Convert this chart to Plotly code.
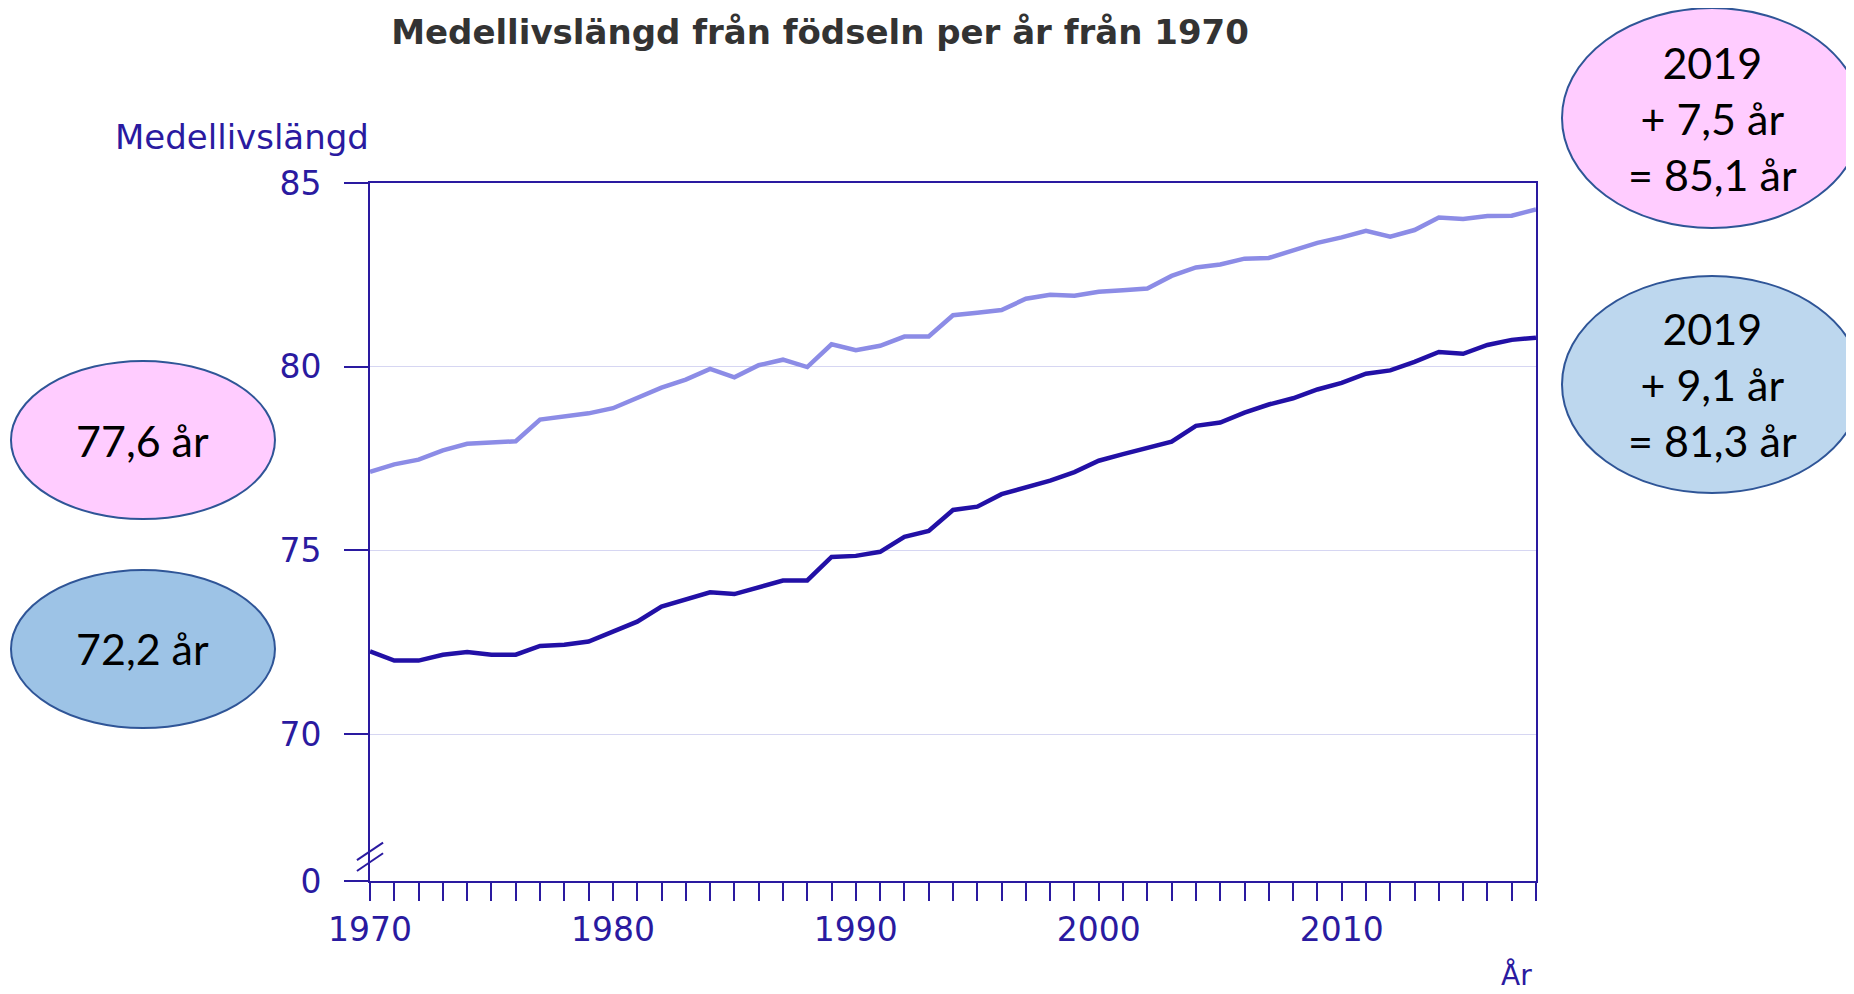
import plotly.graph_objects as go

# data
years = [1970, 1971, 1972, 1973, 1974, 1975, 1976, 1977, 1978, 1979,
         1980, 1981, 1982, 1983, 1984, 1985, 1986, 1987, 1988, 1989,
         1990, 1991, 1992, 1993, 1994, 1995, 1996, 1997, 1998, 1999,
         2000, 2001, 2002, 2003, 2004, 2005, 2006, 2007, 2008, 2009,
         2010, 2011, 2012, 2013, 2014, 2015, 2016, 2017, 2018]

kvinnor = [77.14, 77.34, 77.47, 77.72, 77.90, 77.93, 77.97, 78.56, 78.66, 78.73,
           78.87, 79.14, 79.43, 79.65, 79.94, 79.71, 80.04, 80.19, 79.99, 80.61,
           80.45, 80.57, 80.82, 80.82, 81.40, 81.47, 81.54, 81.85, 81.96, 81.93,
           82.04, 82.08, 82.13, 82.47, 82.70, 82.78, 82.94, 82.96, 83.16, 83.37,
           83.52, 83.70, 83.54, 83.72, 84.06, 84.02, 84.10, 84.11, 84.28]

man = [72.25, 72.00, 72.00, 72.16, 72.23, 72.16, 72.16, 72.40, 72.43, 72.52,
       72.79, 73.06, 73.47, 73.65, 73.86, 73.81, 74.00, 74.18, 74.18, 74.82,
       74.85, 74.96, 75.37, 75.53, 76.10, 76.19, 76.53, 76.72, 76.90, 77.13,
       77.44, 77.62, 77.80, 77.96, 78.39, 78.48, 78.75, 78.97, 79.14, 79.38,
       79.56, 79.81, 79.90, 80.13, 80.40, 80.35, 80.59, 80.73, 80.79]

y_ticks = [66, 70, 75, 80, 85]
y_ticktext = ["0", "70", "75", "80", "85"]
x_ticks = [1970, 1980, 1990, 2000, 2010]

# ellipse labels: (text, fill, x0, x1, y0, y1) in paper coords
bubbles = [
    ("77,6 år", "#ffccff", -0.3079, -0.0815, 0.5186, 0.745),
    ("72,2 år", "#9dc3e6", -0.3079, -0.0815, 0.2192, 0.4456),
    ("2019<br>+ 7,5 år<br>= 85,1 år", "#ffccff", 1.0223, 1.2796, 0.9355, 1.2507),
    ("2019<br>+ 9,1 år<br>= 81,3 år", "#bdd7ee", 1.0223, 1.2796, 0.5559, 0.8668),
]

axis_col = "#2a1aa0"

fig = go.Figure()

fig.add_trace(go.Scatter(
    x=years, y=kvinnor, mode='lines', name='Kvinnor',
    line=dict(color='#8c8ce6', width=4.5)
))
fig.add_trace(go.Scatter(
    x=years, y=man, mode='lines', name='Män',
    line=dict(color='#2210a6', width=4.5)
))

for text, fill, x0, x1, y0, y1 in bubbles:
    fig.add_shape(type='circle', xref='paper', yref='paper',
                  x0=x0, x1=x1, y0=y0, y1=y1,
                  fillcolor=fill, line=dict(color='#2f5597', width=2), layer='above')
    fig.add_annotation(xref='paper', yref='paper', x=(x0 + x1) / 2, y=(y0 + y1) / 2,
                       text=text, showarrow=False, xanchor='center', yanchor='middle',
                       font=dict(family='Lato', size=43, color='black'))

# axis break mark
for ya, yb in [(0.030, 0.055), (0.0143, 0.0397)]:
    fig.add_shape(type='line', xref='x domain', yref='y domain',
                  x0=-0.0112, x1=0.0112, y0=ya, y1=yb,
                  line=dict(color=axis_col, width=2), layer='above')

fig.add_annotation(xref='paper', yref='paper', x=-0.2204, y=1.066,
                   text='Medellivslängd', showarrow=False, xanchor='left', yanchor='middle',
                   font=dict(family='DejaVu Sans', size=34, color=axis_col))
fig.add_annotation(xref='paper', yref='paper', x=0.983, y=-0.1347,
                   text='År', showarrow=False, xanchor='center', yanchor='middle',
                   font=dict(family='DejaVu Sans', size=28, color=axis_col))

fig.update_layout(
    width=1854, height=994,
    margin=dict(l=362, r=326, t=175, b=121),
    paper_bgcolor='white', plot_bgcolor='white',
    showlegend=False,
    title=dict(text='Medellivslängd från födseln per år från 1970',
               x=0.438, xanchor='center', y=0.976, yanchor='middle',
               font=dict(family='DejaVu Sans', size=34, color='#333333', weight='bold')),
    xaxis=dict(
        range=[1970, 2018], tickvals=x_ticks, ticks='outside', ticklen=18,
        tickwidth=2, tickcolor=axis_col, showline=True, linecolor=axis_col, linewidth=2,
        mirror=True, showgrid=False, zeroline=False,
        tickfont=dict(family='DejaVu Sans', size=33, color=axis_col),
        minor=dict(dtick=1, ticks='outside', ticklen=18, tickwidth=2, tickcolor=axis_col, showgrid=False),
    ),
    yaxis=dict(
        range=[66, 85], tickvals=y_ticks, ticktext=y_ticktext, ticks='outside', ticklen=24,
        tickwidth=2, tickcolor=axis_col, showline=True, linecolor=axis_col, linewidth=2,
        mirror=True, showgrid=True, gridcolor='#d6d6f2', gridwidth=1, zeroline=False,
        ticklabelstandoff=16,
        tickfont=dict(family='DejaVu Sans', size=33, color=axis_col),
    ),
)

fig.write_html("out.html")
